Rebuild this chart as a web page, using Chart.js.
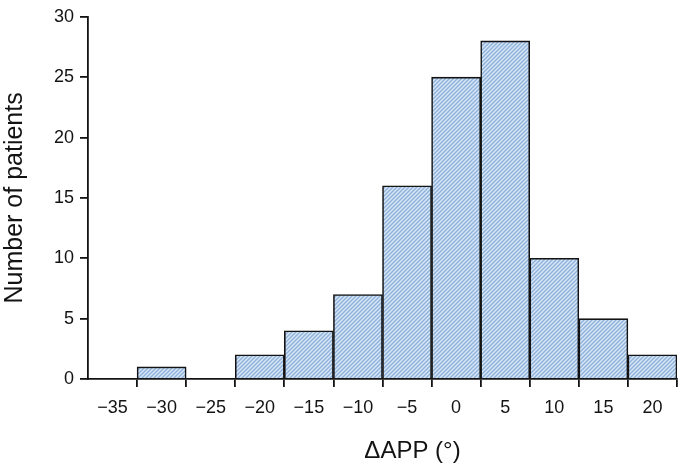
<!DOCTYPE html>
<html>
<head>
<meta charset="utf-8">
<script src="https://cdn.jsdelivr.net/npm/chart.js@4/dist/chart.umd.min.js"></script>
<style>
  html, body { margin: 0; padding: 0; background: #fff; }
  #wrap { width: 683px; height: 466px; position: relative; }
</style>
</head>
<body>
<div id="wrap"><canvas id="hist"></canvas></div>
<script>
// bin centres (degrees) and patient counts per bin
var binLabels = ['\u221235', '\u221230', '\u221225', '\u221220', '\u221215', '\u221210', '\u22125', '0', '5', '10', '15', '20'];
var patients = [0, 1, 0, 2, 4, 7, 16, 25, 28, 10, 5, 2];
var yTicks = [0, 5, 10, 15, 20, 25, 30];

var FONT = '"Liberation Sans", Arial, Helvetica, sans-serif';
var INK = '#131313';

// diagonal hatch fill like the printed figure
function hatch() {
    var c = document.createElement('canvas');
    c.width = 4; c.height = 4;
    var g = c.getContext('2d');
    g.fillStyle = '#d9e6f5';
    g.fillRect(0, 0, 4, 4);
    g.strokeStyle = '#8eb1db';
    g.lineWidth = 1.4;
    g.beginPath();
    g.moveTo(-1, 5); g.lineTo(5, -1);
    g.moveTo(-1, 1); g.lineTo(1, -1);
    g.moveTo(3, 5); g.lineTo(5, 3);
    g.stroke();
    return g.createPattern(c, 'repeat');
}

// x-axis title sits a bit right of centre in the original
var xTitle = {
    id: 'xTitle',
    afterDraw: function (chart) {
        var a = chart.chartArea;
        var ctx = chart.ctx;
        ctx.save();
        ctx.font = '24px ' + FONT;
        ctx.fillStyle = INK;
        ctx.textAlign = 'center';
        ctx.textBaseline = 'middle';
        ctx.fillText('\u0394APP (\u00b0)', (a.left + a.right) / 2 + 30, 451);
        ctx.restore();
    }
};

var ctx = document.getElementById('hist').getContext('2d');
var myChart = new Chart(ctx, {
    type: 'bar',
    data: {
        labels: binLabels,
        datasets: [{
            label: 'Number of patients',
            data: patients,
            backgroundColor: hatch(),
            borderColor: INK,
            borderWidth: 1.6,
            borderSkipped: 'start',
            barPercentage: 1,
            categoryPercentage: 1
        }]
    },
    options: {
        responsive: true,
        maintainAspectRatio: false,
        animation: false,
        layout: { padding: { top: 13, right: 6, left: 0, bottom: 0 } },
        plugins: {
            legend: { display: false },
            tooltip: { enabled: false }
        },
        scales: {
            x: {
                type: 'category',
                offset: true,
                afterFit: function (s) { s.height = 87; },
                grid: {
                    offset: true,
                    drawOnChartArea: false,
                    drawTicks: true,
                    tickLength: 8,
                    lineWidth: 1.8,
                    color: function (c) { return c.index === 0 ? 'rgba(0,0,0,0)' : INK; }
                },
                border: { color: INK, width: 1.8 },
                ticks: {
                    color: INK,
                    padding: 10,
                    maxRotation: 0,
                    autoSkip: false,
                    font: { family: FONT, size: 18 }
                }
            },
            y: {
                min: 0,
                max: yTicks[yTicks.length - 1],
                afterFit: function (s) { s.width = 88; },
                afterBuildTicks: function (s) {
                    s.ticks = yTicks.map(function (v) { return { value: v }; });
                },
                grid: {
                    drawOnChartArea: false,
                    drawTicks: true,
                    tickLength: 8,
                    lineWidth: 1.8,
                    color: INK
                },
                border: { color: INK, width: 1.8 },
                ticks: {
                    color: INK,
                    padding: 6,
                    font: { family: FONT, size: 18 }
                },
                title: {
                    display: true,
                    text: 'Number of patients',
                    color: INK,
                    padding: 0,
                    font: { family: FONT, size: 25 }
                }
            }
        }
    },
    plugins: [xTitle]
});
</script>
</body>
</html>
